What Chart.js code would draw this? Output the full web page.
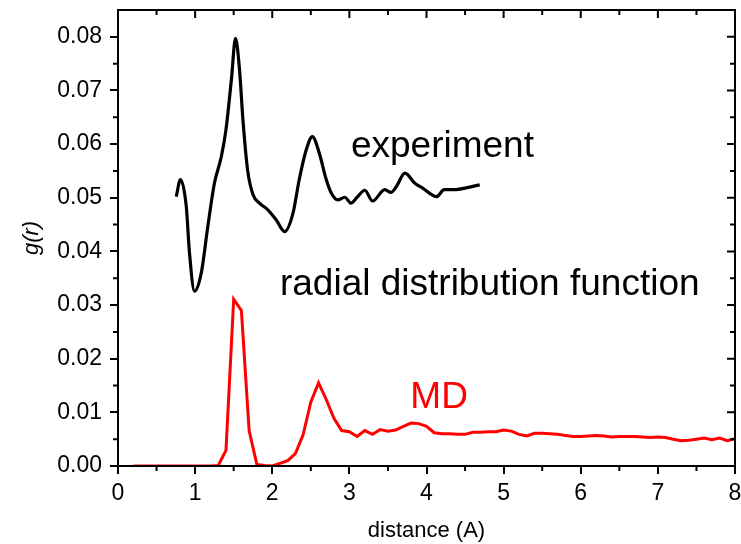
<!DOCTYPE html>
<html><head><meta charset="utf-8">
<script src="https://cdn.jsdelivr.net/npm/chart.js@4/dist/chart.umd.min.js"></script>
<style>html,body{margin:0;padding:0;background:#fff;overflow:hidden}#wrap{width:741px;height:544px}</style>
</head><body><div id="wrap"><canvas id="c" width="741" height="544"></canvas></div>
<script>
// ---- data ----
const expR = [0.755,0.81,0.885,0.927,0.992,1.08,1.165,1.25,1.34,1.40,1.47,1.524,1.576,1.62,1.68,1.75,1.835,1.94,2.05,2.16,2.27,2.35,2.44,2.52,2.61,2.70,2.765,2.85,2.94,3.02,3.10,3.20,3.30,3.46,3.54,3.61,3.72,3.85,3.95,4.13,4.23,4.34,4.69];
const expG = [0.0502,0.0534,0.0484,0.0397,0.0326,0.0360,0.0447,0.0527,0.0577,0.0627,0.0720,0.0797,0.0738,0.0645,0.0552,0.0506,0.0490,0.0478,0.0459,0.0437,0.0472,0.0534,0.0589,0.0614,0.0583,0.0534,0.0509,0.0496,0.0501,0.0490,0.0501,0.0514,0.0494,0.0515,0.0510,0.0521,0.0546,0.0527,0.0518,0.0502,0.0515,0.0515,0.0524];
const mdR = [0.2,0.3,0.4,0.5,0.6,0.7,0.8,0.9,1.0,1.1,1.2,1.3,1.4,1.5,1.6,1.7,1.8,1.9,2.0,2.1,2.2,2.3,2.4,2.5,2.6,2.7,2.8,2.9,3.0,3.1,3.2,3.3,3.4,3.5,3.6,3.7,3.8,3.9,4.0,4.1,4.2,4.3,4.4,4.5,4.6,4.7,4.8,4.9,5.0,5.1,5.2,5.3,5.4,5.5,5.6,5.7,5.8,5.9,6.0,6.1,6.2,6.3,6.4,6.5,6.6,6.7,6.8,6.9,7.0,7.1,7.2,7.3,7.4,7.5,7.6,7.7,7.8,7.9,8.0];
const mdG = [0,0,0,0,0,0,0,0,0,0,0,0.0001,0.0029,0.0311,0.0290,0.0066,0.0003,0.0001,0.0000,0.0005,0.0010,0.0023,0.0058,0.0119,0.0155,0.0124,0.0089,0.0066,0.0064,0.0055,0.0066,0.0059,0.0068,0.0065,0.0067,0.0074,0.0080,0.0079,0.0074,0.0062,0.0060,0.0060,0.0059,0.0059,0.0063,0.0063,0.0064,0.0064,0.0067,0.0065,0.0059,0.0056,0.0061,0.0061,0.0060,0.0059,0.0057,0.0055,0.0055,0.0056,0.0057,0.0056,0.0054,0.0055,0.0055,0.0055,0.0054,0.0053,0.0054,0.0053,0.0050,0.0047,0.0048,0.0050,0.0052,0.0049,0.0052,0.0047,0.0051];
const xTicks = [0,1,2,3,4,5,6,7,8];
const xMinor = [0.5,1.5,2.5,3.5,4.5,5.5,6.5,7.5];
const yTicks = [0,0.01,0.02,0.03,0.04,0.05,0.06,0.07,0.08];
const yMinor = [0.005,0.015,0.025,0.035,0.045,0.055,0.065,0.075];
const xTitle = 'distance (A)';
const yTitle = 'g(r)';
const notes = [
  {text:'experiment', x:3.02, y:0.0576, color:'#000'},
  {text:'radial distribution function', x:2.10, y:0.0319, color:'#000'},
  {text:'MD', x:3.79, y:0.0108, color:'#ff0000'}
];

const FONT = '"Liberation Sans", Arial, sans-serif';

const framePlugin = {
  id:'frame',
  afterDatasetsDraw(chart){
    const {ctx, chartArea:a, scales:{x,y}} = chart;
    ctx.save();
    ctx.textBaseline = 'alphabetic';
    ctx.textAlign = 'left';
    ctx.font = '37px ' + FONT;
    notes.forEach(n => { ctx.fillStyle = n.color; ctx.fillText(n.text, x.getPixelForValue(n.x), y.getPixelForValue(n.y)); });
    ctx.strokeStyle = '#000';
    ctx.lineWidth = 2;
    ctx.beginPath();
    ctx.rect(a.left, a.top, a.right - a.left, a.bottom - a.top);
    ctx.stroke();
    ctx.beginPath();
    xTicks.forEach(v => { const p = x.getPixelForValue(v); ctx.moveTo(p, a.top); ctx.lineTo(p, a.top + 8); });
    xMinor.forEach(v => { const p = x.getPixelForValue(v); ctx.moveTo(p, a.top); ctx.lineTo(p, a.top + 5);
                                                         ctx.moveTo(p, a.bottom); ctx.lineTo(p, a.bottom + 5); });
    yTicks.forEach(v => { const p = y.getPixelForValue(v); ctx.moveTo(a.right, p); ctx.lineTo(a.right - 8, p); });
    yMinor.forEach(v => { const p = y.getPixelForValue(v); ctx.moveTo(a.right, p); ctx.lineTo(a.right - 5, p);
                                                         ctx.moveTo(a.left, p); ctx.lineTo(a.left - 5, p); });
    ctx.stroke();
    ctx.restore();
  }
};

function zeroPad(s){ s.paddingTop = 0; s.paddingBottom = 0; s.paddingLeft = 0; s.paddingRight = 0; }

new Chart(document.getElementById('c'), {
  type:'line',
  data:{
    datasets:[
      {label:'experiment', data: expR.map((r,i)=>({x:r, y:expG[i]})), borderColor:'#000', borderWidth:3.2, pointRadius:0, cubicInterpolationMode:'monotone', fill:false},
      {label:'MD', data: mdR.map((r,i)=>({x:r, y:mdG[i]})), borderColor:'#ff0000', borderWidth:3, pointRadius:0, tension:0, fill:false}
    ]
  },
  options:{
    responsive:false, animation:false, devicePixelRatio:1,
    layout:{padding:{left:0, top:10, right:6, bottom:0}},
    plugins:{legend:{display:false}, tooltip:{enabled:false}},
    scales:{
      x:{type:'linear', min:0, max:8,
        afterBuildTicks(s){ s.ticks = xTicks.map(v=>({value:v})); },
        afterFit(s){ s.height = 78; zeroPad(s); },
        ticks:{color:'#000', font:{family:FONT, size:23}, padding:6, maxRotation:0, callback:v=>String(v)},
        grid:{drawOnChartArea:false, drawTicks:true, tickLength:8, color:'#000', lineWidth:2},
        border:{display:true, color:'#000', width:2},
        title:{display:true, text:xTitle, color:'#000', font:{family:FONT, size:22}, padding:{top:0, bottom:0}}
      },
      y:{type:'linear', min:0, max:0.085,
        afterBuildTicks(s){ s.ticks = yTicks.map(v=>({value:v})); },
        afterFit(s){ s.width = 118; zeroPad(s); },
        ticks:{color:'#000', font:{family:FONT, size:23}, padding:8, callback:v=>Number(v).toFixed(2)},
        grid:{drawOnChartArea:false, drawTicks:true, tickLength:8, color:'#000', lineWidth:2},
        border:{display:true, color:'#000', width:2},
        title:{display:true, text:yTitle, color:'#000', font:{family:FONT, size:22, style:'italic'}, padding:{top:19, bottom:0}}
      }
    }
  },
  plugins:[framePlugin]
});
</script>
</body></html>
